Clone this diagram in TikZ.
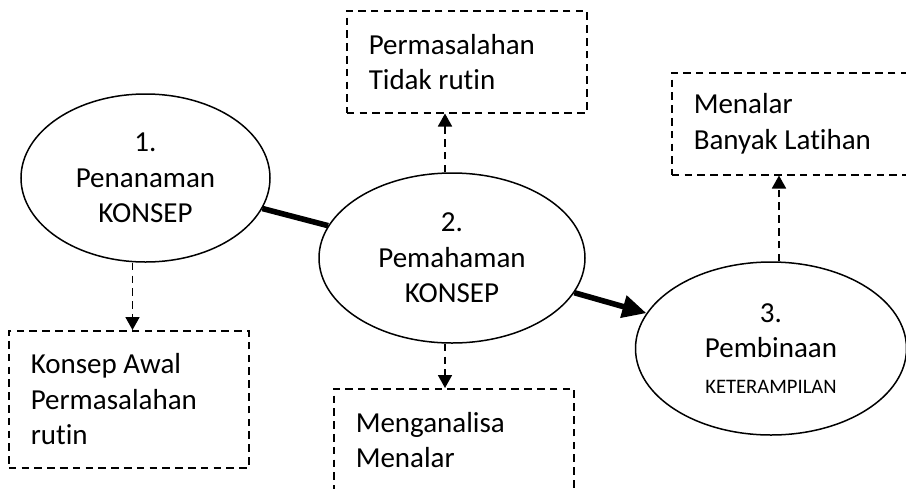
\documentclass[tikz,border=0pt]{standalone}
\usepackage{fontspec}
\setmainfont{Carlito}[Ligatures={NoCommon}]
\usetikzlibrary{shapes.geometric, arrows.meta}

\begin{document}
\begin{tikzpicture}[x=0.5pt, y=-0.5pt,
    stage/.style={draw, ellipse, line width=0.75pt, inner sep=0pt, align=center,
        font=\fontsize{14.5}{17.7}\selectfont},
    note/.style={draw, dash pattern=on 3.8pt off 2.6pt, line width=0.75pt, anchor=north west,
        minimum width=120pt, inner xsep=11pt, inner ysep=0pt, text width=98pt, align=flush left,
        font=\fontsize{14.5}{17.7}\selectfont},
    hint/.style={dash pattern=on 3.8pt off 2.6pt, line width=0.9pt, -{Triangle[length=6.5pt, width=7pt]}},
    flow/.style={line width=2.8pt}]
    \useasboundingbox (0,0) rectangle (906,488);

    % stages
    \node[stage, minimum width=124.5pt, minimum height=84pt] (e1) at (145.5,178) {1.\\Penanaman\\KONSEP};
    \node[stage, minimum width=133pt, minimum height=85pt] (e2) at (452,258) {2.\\Pemahaman\\KONSEP};
    \node[stage, minimum width=135.5pt, minimum height=86.5pt] (e3) at (771,348.5)
        {3.\\Pembinaan\\{\fontsize{10.3}{13}\selectfont KETERAMPILAN}};

    % notes
    \node[note, minimum height=68.5pt] (n1) at (8,330) {Konsep Awal\\Permasalahan\\rutin};
    \node[note, minimum height=51pt] (n2) at (346,10) {Permasalahan\\Tidak rutin};
    \node[note, minimum height=51pt] (n3) at (333,388) {Menganalisa\\Menalar};
    \node[note, minimum height=51pt] (n4) at (671,72) {Menalar\\Banyak Latihan};

    % main flow
    \draw[flow] (e1) -- (e2);
    \draw[flow, -{Triangle[length=12pt, width=11pt]}] (e2) -- (e3);

    % dashed hints
    \draw[hint] ([xshift=-6.5pt]e1.south) -- ([xshift=-6.5pt]e1.south |- n1.north);
    \draw[hint] ([xshift=-3.5pt]e2.north) -- ([xshift=-3.5pt]e2.north |- n2.south);
    \draw[hint] ([xshift=-3.5pt]e2.south) -- ([xshift=-3.5pt]e2.south |- n3.north);
    \draw[hint] ([xshift=4pt]e3.north) -- ([xshift=4pt]e3.north |- n4.south);
\end{tikzpicture}
\end{document}
